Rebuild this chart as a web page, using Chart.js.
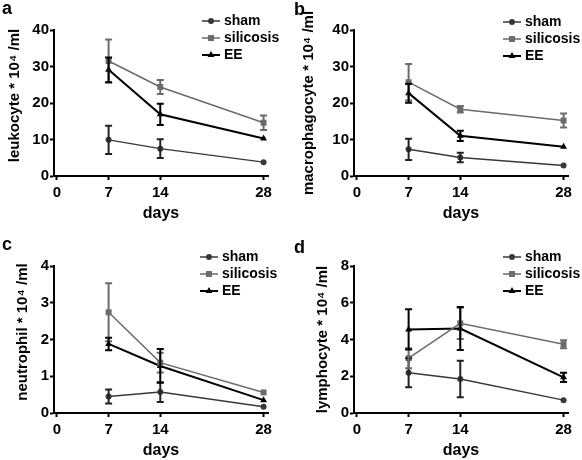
<!DOCTYPE html>
<html>
<head>
<meta charset="utf-8">
<title>BALF cell counts</title>
<script src="https://cdn.jsdelivr.net/npm/chart.js@4.4.1/dist/chart.umd.min.js"></script>
<style>
    html, body { margin: 0; padding: 0; background: #fff; }
    #figure { position: relative; width: 582px; height: 460px; }
    .panel { position: absolute; width: 291px; height: 230px; }
</style>
</head>
<body>
<div id="figure">
    <div class="panel" style="left:0;top:0"><canvas id="panelA" width="291" height="230"></canvas></div>
    <div class="panel" style="left:291px;top:0"><canvas id="panelB" width="291" height="230"></canvas></div>
    <div class="panel" style="left:0;top:230px"><canvas id="panelC" width="291" height="230"></canvas></div>
    <div class="panel" style="left:291px;top:230px"><canvas id="panelD" width="291" height="230"></canvas></div>
</div>
<script>
// values (mean and error per time point)
const days = [7, 14, 28];
const dayTicks = [0, 7, 14, 28];
const groups = ['sham', 'silicosis', 'EE'];

const leukoSham = [9.9, 7.5, 3.8];
const leukoShamErr = [3.9, 2.6, 0];
const leukoSilicosis = [31.5, 24.4, 14.6];
const leukoSilicosisErr = [5.9, 1.9, 2.0];
const leukoEE = [29.1, 16.9, 10.3];
const leukoEEErr = [3.4, 2.9, 0];

const macroSham = [7.3, 5.1, 2.9];
const macroShamErr = [2.9, 1.3, 0];
const macroSilicosis = [25.7, 18.3, 15.2];
const macroSilicosisErr = [5.0, 0.9, 1.9];
const macroEE = [22.7, 11.0, 8.0];
const macroEEErr = [2.6, 1.4, 0];

const neutroSham = [0.45, 0.57, 0.17];
const neutroShamErr = [0.19, 0.27, 0];
const neutroSilicosis = [2.74, 1.37, 0.56];
const neutroSilicosisErr = [0.79, 0.27, 0];
const neutroEE = [1.88, 1.28, 0.35];
const neutroEEErr = [0.17, 0.46, 0];

const lymphoSham = [2.19, 1.85, 0.70];
const lymphoShamErr = [0.79, 0.99, 0];
const lymphoSilicosis = [2.98, 4.88, 3.74];
const lymphoSilicosisErr = [0.55, 0.85, 0.22];
const lymphoEE = [4.55, 4.6, 1.94];
const lymphoEEErr = [1.1, 1.17, 0.25];

const FONT = '"Liberation Sans", Arial, Helvetica, sans-serif';

const seriesStyle = [
    { color: '#383838', errColor: '#222222', pointStyle: 'circle', radius: 3, width: 1.5 },
    { color: '#6b6b6b', errColor: '#6b6b6b', pointStyle: 'rect', radius: 4.2, width: 1.5 },
    { color: '#000000', errColor: '#000000', pointStyle: 'triangle', radius: 4, width: 2 }
];

const errorBarsPlugin = {
    id: 'errorBars',
    afterDatasetsDraw(chart) {
        const { ctx, scales: { x, y } } = chart;
        chart.data.datasets.forEach((ds) => {
            if (!ds.errors) return;
            ctx.save();
            ctx.strokeStyle = ds.errColor;
            ctx.lineWidth = 2;
            ds.data.forEach((pt, j) => {
                const e = ds.errors[j];
                if (!e) return;
                const px = x.getPixelForValue(pt.x);
                const top = y.getPixelForValue(pt.y + e);
                const bot = y.getPixelForValue(pt.y - e);
                ctx.beginPath();
                ctx.moveTo(px, top); ctx.lineTo(px, bot);
                ctx.moveTo(px - 3.5, top); ctx.lineTo(px + 3.5, top);
                ctx.moveTo(px - 3.5, bot); ctx.lineTo(px + 3.5, bot);
                ctx.stroke();
            });
            ctx.restore();
        });
    }
};

// panel letter and the line+marker legend in the top right corner
const panelDecorPlugin = {
    id: 'panelDecor',
    afterDraw(chart, args, opts) {
        const ctx = chart.ctx;
        ctx.save();
        ctx.fillStyle = '#000';
        ctx.textAlign = 'left';
        ctx.textBaseline = 'alphabetic';
        ctx.font = 'bold 18px ' + FONT;
        ctx.fillText(opts.letter, opts.letterX, opts.letterY);

        ctx.font = 'bold 14px ' + FONT;
        ctx.textBaseline = 'middle';
        chart.data.datasets.forEach((ds, i) => {
            const yy = opts.legendY + i * 17;
            ctx.strokeStyle = ds.borderColor;
            ctx.lineWidth = ds.borderWidth;
            ctx.beginPath();
            ctx.moveTo(opts.legendX, yy);
            ctx.lineTo(opts.legendX + 18, yy);
            ctx.stroke();
            ctx.fillStyle = ds.pointBackgroundColor;
            Chart.helpers.drawPoint(ctx, {
                pointStyle: ds.pointStyle, radius: ds.pointRadius, rotation: 0, borderWidth: 0
            }, opts.legendX + 9, yy);
            ctx.fillStyle = '#000';
            ctx.fillText(ds.label, opts.legendX + 22, yy);
        });
        ctx.restore();
    }
};

function buildPanel(canvasId, p) {
    const datasets = p.series.map((vals, i) => ({
        label: groups[i],
        data: days.map((d, j) => ({ x: d, y: vals[j] })),
        errors: p.errors[i],
        errColor: seriesStyle[i].errColor,
        borderColor: seriesStyle[i].color,
        borderWidth: seriesStyle[i].width,
        pointStyle: seriesStyle[i].pointStyle,
        pointRadius: seriesStyle[i].radius,
        pointBackgroundColor: seriesStyle[i].color,
        pointBorderWidth: 0,
        tension: 0,
        fill: false
    }));

    // leading en spaces nudge the rotated title upwards where the original sits off-centre
    const yTitle = '\u2002'.repeat(p.yTitleNudge || 0) + p.yTitle;

    return new Chart(document.getElementById(canvasId), {
        type: 'line',
        data: { datasets: datasets },
        plugins: [errorBarsPlugin, panelDecorPlugin],
        options: {
            responsive: false,
            animation: false,
            devicePixelRatio: 1,
            layout: {
                padding: { left: 0, top: p.plotTop, right: 291 - p.plotLeft - 214, bottom: 0 }
            },
            plugins: {
                legend: { display: false },
                tooltip: { enabled: false },
                panelDecor: p.decor
            },
            scales: {
                x: {
                    type: 'linear',
                    min: -0.4,
                    max: 28.6,
                    afterBuildTicks: s => { s.ticks = dayTicks.map(v => ({ value: v })); },
                    afterFit: s => { s.height = 230 - p.plotBottom; },
                    ticks: {
                        autoSkip: false, maxRotation: 0, padding: 4, color: '#000',
                        font: { family: FONT, size: 15, weight: 'bold' }
                    },
                    grid: { drawOnChartArea: false, drawTicks: true, tickLength: 4, tickWidth: 2, tickColor: '#000' },
                    border: { color: '#000', width: 2 },
                    title: {
                        display: true, text: 'days', color: '#000',
                        padding: { top: 0, bottom: p.xTitlePad },
                        font: { family: FONT, size: 16, weight: 'bold' }
                    }
                },
                y: {
                    min: 0,
                    max: p.yMax,
                    afterFit: s => { s.width = p.plotLeft; },
                    ticks: {
                        stepSize: p.yStep, padding: 1, color: '#000',
                        font: { family: FONT, size: 15, weight: 'bold' }
                    },
                    grid: { drawOnChartArea: false, drawTicks: true, tickLength: 4, tickWidth: 2, tickColor: '#000' },
                    border: { color: '#000', width: 2 },
                    title: {
                        display: true, text: yTitle, color: '#000',
                        padding: { top: p.yTitlePad, bottom: 0 },
                        font: { family: FONT, size: 15, weight: 'bold' }
                    }
                }
            }
        }
    });
}

buildPanel('panelA', {
    series: [leukoSham, leukoSilicosis, leukoEE],
    errors: [leukoShamErr, leukoSilicosisErr, leukoEEErr],
    yMax: 40, yStep: 10, yTitle: 'leukocyte * 10\u2074 /ml', yTitleNudge: 2,
    plotLeft: 54, plotTop: 30, plotBottom: 176, yTitlePad: 6, xTitlePad: 7,
    decor: { letter: 'a', letterX: 2, letterY: 14, legendX: 202, legendY: 21 }
});

buildPanel('panelB', {
    series: [macroSham, macroSilicosis, macroEE],
    errors: [macroShamErr, macroSilicosisErr, macroEEErr],
    yMax: 40, yStep: 10, yTitle: 'macrophagocyte * 10\u2074 /ml',
    plotLeft: 63, plotTop: 30, plotBottom: 176, yTitlePad: 9, xTitlePad: 7,
    decor: { letter: 'b', letterX: 3, letterY: 15, legendX: 212, legendY: 22 }
});

buildPanel('panelC', {
    series: [neutroSham, neutroSilicosis, neutroEE],
    errors: [neutroShamErr, neutroSilicosisErr, neutroEEErr],
    yMax: 4, yStep: 1, yTitle: 'neutrophil * 10\u2074 /ml', yTitleNudge: 2,
    plotLeft: 54, plotTop: 36, plotBottom: 183, yTitlePad: 14, xTitlePad: 0,
    decor: { letter: 'c', letterX: 2, letterY: 20, legendX: 200, legendY: 27 }
});

buildPanel('panelD', {
    series: [lymphoSham, lymphoSilicosis, lymphoEE],
    errors: [lymphoShamErr, lymphoSilicosisErr, lymphoEEErr],
    yMax: 8, yStep: 2, yTitle: 'lymphocyte * 10\u2074 /ml',
    plotLeft: 63, plotTop: 36, plotBottom: 183, yTitlePad: 23, xTitlePad: 0,
    decor: { letter: 'd', letterX: 3, letterY: 23, legendX: 212, legendY: 27 }
});
</script>
</body>
</html>
